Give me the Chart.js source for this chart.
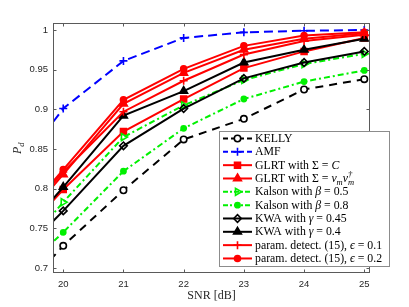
<!DOCTYPE html>
<html>
<head>
<meta charset="utf-8">
<script src="https://cdn.jsdelivr.net/npm/chart.js@4.4.0/dist/chart.umd.min.js"></script>
<style>html,body{margin:0;padding:0;background:#fff}</style>
</head>
<body>
<div style="width:409px;height:307px"><canvas id="chart" width="409" height="307"></canvas></div>
<script>
// SNR in dB (19 is only there for the line stubs left of the axis)
const snr = [19, 20, 21, 22, 23, 24, 25];

const kelly      = [0.645, 0.728, 0.798, 0.862, 0.888, 0.925, 0.938];
const amf        = [0.800, 0.901, 0.961, 0.990, 0.997, 0.999, 1.000];
const glrtC      = [0.715, 0.799, 0.872, 0.913, 0.952, 0.973, 0.990];
const glrtV      = [0.730, 0.818, 0.907, 0.946, 0.975, 0.989, 0.996];
const kalson05   = [0.695, 0.783, 0.865, 0.905, 0.937, 0.957, 0.970];
const kalson08   = [0.674, 0.745, 0.822, 0.876, 0.913, 0.935, 0.949];
const kwa045     = [0.695, 0.772, 0.854, 0.901, 0.939, 0.959, 0.973];
const kwa04      = [0.715, 0.802, 0.892, 0.923, 0.959, 0.975, 0.989];
const param01    = [0.735, 0.821, 0.897, 0.936, 0.969, 0.986, 0.994];
const param02    = [0.735, 0.824, 0.912, 0.951, 0.980, 0.993, 0.997];

const xTicks = [20, 21, 22, 23, 24, 25];
const yTicks = [0.7, 0.75, 0.8, 0.85, 0.9, 0.95, 1];
const yTickLabels = ['0.7', '0.75', '0.8', '0.85', '0.9', '0.95', '1'];

const seriesNames = [
  'KELLY',
  'AMF',
  'GLRT with Σ = $C$',
  'GLRT with Σ = $v_{m}v_{m}^{†}$',
  'Kalson with $β$ = 0.5',
  'Kalson with $β$ = 0.8',
  'KWA with $γ$ = 0.45',
  'KWA with $γ$ = 0.4',
  'param. detect. (15), $ϵ$ = 0.1',
  'param. detect. (15), $ϵ$ = 0.2'
];
const seriesValues = [kelly, amf, glrtC, glrtV, kalson05, kalson08, kwa045, kwa04, param01, param02];

// look of each curve
const RED = '#ff0000', GREEN = '#00f000', BLUE = '#0000ff', BLACK = '#000000';
const looks = [
  {color: BLACK, dash: [8, 6], point: 'circle', r: 3.2, fill: '#ffffff'},
  {color: BLUE, dash: [9, 5], point: 'cross', r: 4, fill: BLUE},
  {color: RED, dash: [], point: 'rect', r: 4.2, fill: RED},
  {color: RED, dash: [], point: 'triangle', r: 4.5, fill: RED},
  {color: GREEN, dash: [6, 3, 2, 3], point: 'triangle', rot: 90, r: 4, fill: 'rgba(0,0,0,0)'},
  {color: GREEN, dash: [6, 3, 2, 3], point: 'circle', r: 2.6, fill: GREEN},
  {color: BLACK, dash: [], point: 'rectRot', r: 3.8, fill: 'rgba(0,0,0,0)'},
  {color: BLACK, dash: [], point: 'triangle', r: 4.5, fill: BLACK},
  {color: RED, dash: [], point: 'cross', r: 4, fill: RED},
  {color: RED, dash: [], point: 'circle', r: 3, fill: RED}
];

const n = seriesValues.length;
const datasets = seriesValues.map((vals, i) => ({
  label: seriesNames[i],
  data: snr.map((s, k) => ({x: s, y: vals[k]})),
  borderColor: looks[i].color,
  borderWidth: 2,
  borderDash: looks[i].dash,
  pointStyle: looks[i].point,
  pointRotation: looks[i].rot || 0,
  pointRadius: looks[i].r,
  pointBorderWidth: 1.6,
  pointBorderColor: looks[i].color,
  pointBackgroundColor: looks[i].fill,
  tension: 0,
  fill: false,
  order: n - i
}));

function drawRich(ctx, str, x, y, size, color) {
  let italic = false, i = 0;
  ctx.fillStyle = color;
  ctx.textBaseline = 'middle';
  ctx.textAlign = 'left';
  const font = (sz, it) => (it ? 'italic ' : '') + sz + 'px "Liberation Serif", serif';
  while (i < str.length) {
    const c = str[i];
    if (c === '$') { italic = !italic; i++; continue; }
    if (c === '_' || c === '^') {
      let maxW = 0;
      while (i < str.length && (str[i] === '_' || str[i] === '^')) {
        const kind = str[i];
        const end = str.indexOf('}', i);
        const txt = str.slice(i + 2, end);
        ctx.font = font(size * 0.72, italic);
        ctx.fillText(txt, x, y + (kind === '_' ? size * 0.28 : -size * 0.38));
        maxW = Math.max(maxW, ctx.measureText(txt).width);
        i = end + 1;
      }
      x += maxW;
      continue;
    }
    let j = i;
    while (j < str.length && !'$_^'.includes(str[j])) j++;
    const txt = str.slice(i, j);
    ctx.font = font(size, italic);
    ctx.fillText(txt, x, y);
    x += ctx.measureText(txt).width;
    i = j;
  }
  return x;
}

function drawMarker(ctx, lk, x, y) {
  ctx.save();
  ctx.setLineDash([]);
  ctx.strokeStyle = lk.color;
  ctx.fillStyle = lk.fill;
  ctx.lineWidth = 1.6;
  const r = lk.r;
  ctx.beginPath();
  if (lk.point === 'circle') {
    ctx.arc(x, y, r, 0, Math.PI * 2);
  } else if (lk.point === 'rect') {
    const s = r * Math.SQRT1_2;
    ctx.rect(x - s, y - s, 2 * s, 2 * s);
  } else if (lk.point === 'rectRot') {
    ctx.moveTo(x - r, y); ctx.lineTo(x, y - r); ctx.lineTo(x + r, y); ctx.lineTo(x, y + r); ctx.closePath();
  } else if (lk.point === 'triangle') {
    let a = (lk.rot || 0) * Math.PI / 180;
    for (let k = 0; k < 3; k++) {
      const px = x + Math.sin(a) * r, py = y - Math.cos(a) * r;
      k ? ctx.lineTo(px, py) : ctx.moveTo(px, py);
      a += Math.PI * 2 / 3;
    }
    ctx.closePath();
  } else if (lk.point === 'cross') {
    ctx.moveTo(x - r, y); ctx.lineTo(x + r, y); ctx.moveTo(x, y - r); ctx.lineTo(x, y + r);
    ctx.stroke(); ctx.restore(); return;
  }
  ctx.fill();
  ctx.stroke();
  ctx.restore();
}

const boxPlugin = {
  id: 'axesBox',
  afterDatasetsDraw(chart) {
    const {ctx, chartArea: a, scales: {x, y}} = chart;
    ctx.save();
    ctx.strokeStyle = '#5a5a5a';
    ctx.lineWidth = 1;
    const L = Math.round(a.left) + 0.5, R = Math.round(a.right) - 0.5;
    const T = Math.round(a.top) + 0.5, B = Math.round(a.bottom) - 0.5;
    ctx.strokeRect(L, T, R - L, B - T);
    ctx.beginPath();
    xTicks.forEach(v => {
      const px = Math.round(x.getPixelForValue(v)) + 0.5;
      ctx.moveTo(px, B); ctx.lineTo(px, B - 3);
      ctx.moveTo(px, T); ctx.lineTo(px, T + 3);
    });
    yTicks.forEach(v => {
      const py = Math.round(y.getPixelForValue(v)) + 0.5;
      ctx.moveTo(L, py); ctx.lineTo(L + 3, py);
      ctx.moveTo(R, py); ctx.lineTo(R - 3, py);
    });
    ctx.stroke();
    // axis titles
    ctx.fillStyle = '#262626';
    ctx.font = '12px "Liberation Serif", serif';
    ctx.textAlign = 'center';
    ctx.textBaseline = 'middle';
    ctx.fillText('SNR [dB]', (a.left + a.right) / 2, 296);
    ctx.translate(18, 148);
    ctx.rotate(-Math.PI / 2);
    drawRich(ctx, '$P_{d}$', -6, 0, 12, '#262626');
    ctx.restore();
  }
};

const legendPlugin = {
  id: 'boxLegend',
  afterDraw(chart) {
    const ctx = chart.ctx;
    const L = 219.5, T = 131.5, W = 170, H = 135;
    ctx.save();
    ctx.fillStyle = '#ffffff';
    ctx.fillRect(L, T, W, H);
    ctx.strokeStyle = '#8c8c8c';
    ctx.lineWidth = 1;
    ctx.strokeRect(L, T, W, H);
    looks.forEach((lk, i) => {
      const y = 138.5 + i * 13.33;
      ctx.strokeStyle = lk.color;
      ctx.lineWidth = 2;
      ctx.setLineDash(lk.dash.length ? (lk.dash.length > 2 ? [5, 2, 2, 2] : [5, 3]) : []);
      ctx.beginPath();
      ctx.moveTo(223, y);
      ctx.lineTo(252, y);
      ctx.stroke();
      ctx.setLineDash([]);
      drawMarker(ctx, lk, 237.5, y);
      drawRich(ctx, seriesNames[i], 255, y + 0.5, 11.8, '#000');
    });
    ctx.restore();
  }
};

new Chart(document.getElementById('chart').getContext('2d'), {
  type: 'line',
  data: {datasets: datasets},
  options: {
    responsive: false,
    animation: false,
    layout: {padding: {top: 23, right: 39, left: 0, bottom: 0}},
    plugins: {legend: {display: false}, tooltip: {enabled: false}},
    scales: {
      x: {
        type: 'linear',
        min: 19.83,
        max: 25.095,
        grid: {display: false, drawTicks: false},
        border: {display: false},
        afterBuildTicks: s => { s.ticks = xTicks.map(v => ({value: v})); },
        afterFit: s => { s.height = 34; },
        ticks: {
          font: {family: 'Liberation Sans', size: 9.5},
          color: '#262626',
          padding: 6,
          maxRotation: 0,
          autoSkip: false,
          callback: v => String(v)
        }
      },
      y: {
        type: 'linear',
        min: 0.6937,
        max: 1.0088,
        grid: {display: false, drawTicks: false},
        border: {display: false},
        afterBuildTicks: s => { s.ticks = yTicks.map(v => ({value: v})); },
        afterFit: s => { s.width = 53; },
        ticks: {
          font: {family: 'Liberation Sans', size: 9.5},
          color: '#262626',
          padding: 5,
          autoSkip: false,
          callback: (v, idx) => yTickLabels[idx]
        }
      }
    }
  },
  plugins: [boxPlugin, legendPlugin]
});
</script>
</body>
</html>
